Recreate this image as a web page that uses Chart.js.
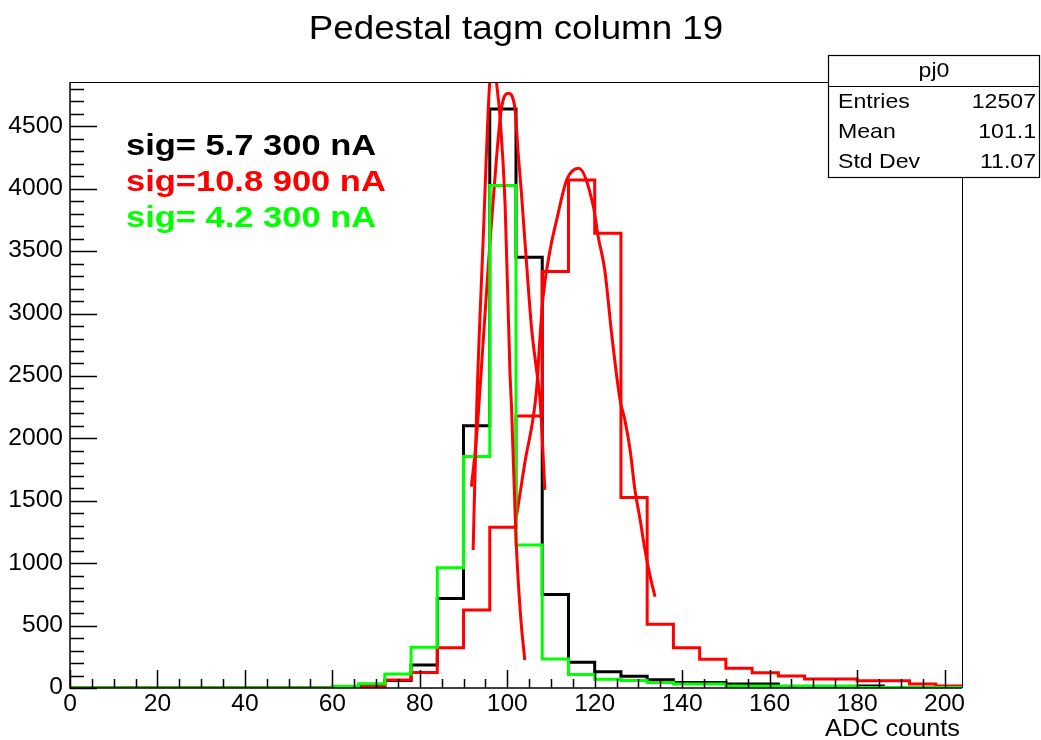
<!DOCTYPE html>
<html><head><meta charset="utf-8">
<script src="https://cdn.jsdelivr.net/npm/chart.js@4.4.0/dist/chart.umd.min.js"></script>
<style>html,body{margin:0;padding:0;background:#fff;} #wrap{width:1041px;height:740px;position:relative;}</style>
</head><body><div id="wrap"><canvas id="c"></canvas></div>
<script>
// ---- data ----
const binLow = [0,6,12,18,24,30,36,42,48,54,60,66,72,78,84,90,96,102,108,114,120,126,132,138,144,150,156,162,168,174,180,186,192,198];
const BIN_W = 6;
const black300 = [0,0,0,0,0,0,0,0,0,0,3,20,60,184,718,2102,4639,3451,750,206,130,95,67,45,45,32,32,11,11,11,16,5,0,0];
const red900   = [0,0,0,0,0,0,0,0,0,0,5,10,64,125,323,625,1287,2180,3336,4070,3643,1527,510,323,230,158,123,96,72,72,59,59,32,16];
const green300 = [0,0,0,0,0,0,0,0,0,0,15,35,112,326,964,1854,4025,1146,232,108,70,60,45,32,32,16,16,16,16,16,5,5,5,5];

// fit curves
const fitBlackX = [91.8,93.0,94.5,96.0,97.5,98.7,100.2,101.7,102.5,103.3,104.8,105.6,106.7,107.5,108.6];
const fitBlackY = [1613,2020,2780,3550,4230,4650,4765,4658,4284,3937,3216,2868,2548,2308,1587];
const fitRedX = [102.1,104.0,106.7,107.5,108.2,109.8,111.3,113.6,116.3,119.7,120.8,122.3,123.9,125.8,126.9,128.1,129.2,130.4,131.5,132.7,133.8];
const fitRedY = [1372,1800,2388,2815,3135,3510,3750,4071,4164,3857,3616,3349,2829,2308,2147,1907,1587,1346,1106,892,731];
const fitGreenX = [92.2,93.0,94.5,96.0,97.0,97.6,98.3,99.5,100.6,101.0,102.0,103.0,104.0];
const fitGreenY = [1106,2230,3600,4860,5050,4833,4593,3884,2548,2228,1200,600,224];

const xTickValues = [0,20,40,60,80,100,120,140,160,180,200];
const xTickLabels = ['0','20','40','60','80','100','120','140','160','180','200'];
const yTickValues = [0,500,1000,1500,2000,2500,3000,3500,4000,4500];
const yTickLabels = ['0','500','1000','1500','2000','2500','3000','3500','4000','4500'];
const X_MIN = 0, X_MAX = 204, Y_MIN = 0, Y_MAX = 4855;

const titleText = 'Pedestal tagm column 19';
const xTitle = 'ADC counts';
const statsName = 'pj0';
const statsRows = [['Entries','12507'],['Mean','101.1'],['Std Dev','11.07']];
const sigLabels = ['sig= 5.7 300 nA','sig=10.8 900 nA','sig= 4.2 300 nA'];
const sigColors = ['#000000','#ff0000','#00ff00'];

// ---- helpers ----
const FONT = '"Liberation Sans", Arial, Helvetica, sans-serif';
function histPoints(vals){
  const pts = binLow.map((x,i)=>({x:x, y:vals[i]}));
  pts.push({x: binLow[binLow.length-1]+BIN_W, y: vals[vals.length-1]});
  return pts;
}
function curvePoints(xs, ys){ return xs.map((x,i)=>({x:x, y:ys[i]})); }
function drawText(ctx, str, x, y, size, opt){
  opt = opt || {};
  ctx.save();
  ctx.font = (opt.bold?'bold ':'') + size + 'px ' + FONT;
  ctx.fillStyle = opt.color || '#000';
  ctx.textAlign = opt.align || 'left';
  ctx.textBaseline = opt.baseline || 'middle';
  ctx.translate(x, y);
  ctx.scale(opt.sx || 1, 1);
  ctx.fillText(str, 0, 0);
  ctx.restore();
}

const rootPlugin = {
  id: 'rootStyle',
  beforeDraw(chart){
    const ctx = chart.ctx;
    ctx.save(); ctx.fillStyle = '#fff'; ctx.fillRect(0,0,chart.width,chart.height); ctx.restore();
  },
  afterDraw(chart){
    const ctx = chart.ctx, xs = chart.scales.x, ys = chart.scales.y, a = chart.chartArea;
    ctx.save();
    ctx.strokeStyle = '#000';
    // frame
    ctx.lineWidth = 1;
    ctx.beginPath();
    ctx.moveTo(a.left, a.top+0.5); ctx.lineTo(a.right+0.5, a.top+0.5); ctx.lineTo(a.right+0.5, a.bottom);
    ctx.stroke();
    // axes
    ctx.lineWidth = 1.5;
    ctx.beginPath();
    ctx.moveTo(a.left, a.top); ctx.lineTo(a.left, a.bottom); ctx.lineTo(a.right, a.bottom);
    ctx.stroke();
    // ticks
    ctx.lineWidth = 1.5;
    ctx.beginPath();
    for (let v = X_MIN; v <= X_MAX; v += 5){
      const px = Math.round(xs.getPixelForValue(v)) + 0.5;
      const len = (v % 20 === 0) ? 18 : 9;
      ctx.moveTo(px, a.bottom); ctx.lineTo(px, a.bottom - len);
    }
    for (let v = Y_MIN; v <= Y_MAX; v += 100){
      const py = Math.round(ys.getPixelForValue(v)) + 0.5;
      const len = (v % 500 === 0) ? 27 : 14;
      ctx.moveTo(a.left, py); ctx.lineTo(a.left + len, py);
    }
    ctx.stroke();
    // tick labels
    xTickValues.forEach((v,i)=>{
      drawText(ctx, xTickLabels[i], xs.getPixelForValue(v), a.bottom + 17, 23, {align:'center', sx:1.07});
    });
    yTickValues.forEach((v,i)=>{
      drawText(ctx, yTickLabels[i], a.left - 7, ys.getPixelForValue(v), 23, {align:'right', sx:1.07});
    });
    // axis title
    drawText(ctx, xTitle, a.right - 2, a.bottom + 42, 23, {align:'right', sx:1.1});
    // title
    drawText(ctx, titleText, 516, 30, 34, {align:'center', sx:1.08});
    // sig labels
    sigLabels.forEach((s,i)=>{
      drawText(ctx, s, 126, 147 + i*36, 30, {bold:true, color:sigColors[i], sx:1.15});
    });
    // stats box
    const bx = 828, by = 55, bw = 212, bh = 122;
    ctx.fillStyle = '#fff';
    ctx.fillRect(bx, by, bw, bh);
    ctx.lineWidth = 1.2;
    ctx.strokeRect(bx+0.5, by+0.5, bw-1, bh);
    ctx.beginPath(); ctx.moveTo(bx, by+31.5); ctx.lineTo(bx+bw, by+31.5); ctx.stroke();
    drawText(ctx, statsName, bx + bw/2, by + 16, 21, {align:'center', sx:1.1});
    statsRows.forEach((r,i)=>{
      drawText(ctx, r[0], bx + 10, by + 47 + i*30, 21, {align:'left', sx:1.1});
      drawText(ctx, r[1], bx + bw - 4, by + 47 + i*30, 21, {align:'right', sx:1.1});
    });
    ctx.restore();
  }
};

const hist = (label, vals, color, order) => ({
  label, data: histPoints(vals), borderColor: color, borderWidth: 3, stepped: 'before',
  pointRadius: 0, fill: false, order
});
const fit = (label, xsA, ysA, order) => ({
  label, data: curvePoints(xsA, ysA), borderColor: '#ff0000', borderWidth: 3,
  cubicInterpolationMode: 'monotone', pointRadius: 0, fill: false, order
});

new Chart(document.getElementById('c'), {
  type: 'line',
  data: { datasets: [
    hist('300 nA (black)', black300, '#000000', 6),
    fit('fit black', fitBlackX, fitBlackY, 5),
    hist('900 nA', red900, '#ff0000', 4),
    fit('fit red', fitRedX, fitRedY, 3),
    hist('300 nA (green)', green300, '#00ff00', 2),
    fit('fit green', fitGreenX, fitGreenY, 1)
  ]},
  options: {
    responsive: true, maintainAspectRatio: false, animation: false,
    layout: { padding: { left: 70, right: 79, top: 82, bottom: 52 } },
    plugins: { legend: {display:false}, title: {display:false}, tooltip: {enabled:false} },
    scales: {
      x: { type: 'linear', min: X_MIN, max: X_MAX, display: false },
      y: { type: 'linear', min: Y_MIN, max: Y_MAX, display: false }
    }
  },
  plugins: [rootPlugin]
});
</script></body></html>
